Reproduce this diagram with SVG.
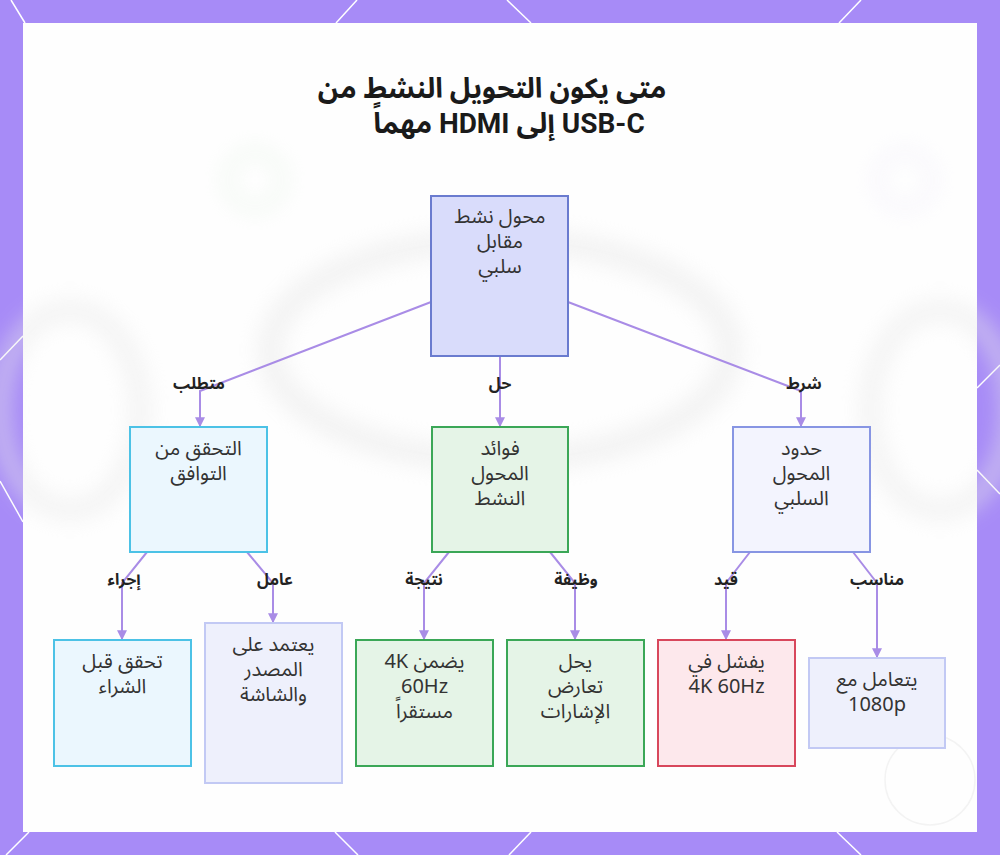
<svg xmlns="http://www.w3.org/2000/svg" width="1000" height="855" viewBox="0 0 1000 855">
  <style>
    .ntext { font-family: "Noto Sans Arabic", "Noto Sans", "DejaVu Sans", sans-serif; font-size: 20px; fill: #333333; text-anchor: middle; direction: rtl; }
    .elabel { font-family: "Noto Sans Arabic", "Noto Sans", "DejaVu Sans", sans-serif; font-size: 16px; font-weight: bold; fill: #222222; text-anchor: middle; direction: rtl; }
    .title { font-family: Roboto, "Noto Sans Arabic", "DejaVu Sans", sans-serif; font-size: 28px; font-weight: bold; fill: #1a1a1a; text-anchor: middle; direction: rtl; }
    .edge { fill: none; stroke: #A98CE6; stroke-width: 2; marker-end: url(#arrow); }
    .deco { stroke: #ffffff; stroke-width: 1.5; fill: none; }
    .blue { fill: #EBF7FE; stroke: #4CC2E6; stroke-width: 2; }
    .green { fill: #E5F4E7; stroke: #3BA757; stroke-width: 2; }
    .red { fill: #FDE8EC; stroke: #D8475C; stroke-width: 2; }
    .lav { fill: #EEF0FC; stroke: #C2C9F4; stroke-width: 2; }
    .lav2 { fill: #F3F4FE; stroke: #8795E3; stroke-width: 2; }
    .root { fill: #D9DCFB; stroke: #6A7BCF; stroke-width: 2; }
  </style>
  <defs>
    <marker id="arrow" viewBox="0 0 8 8" refX="7" refY="4" markerWidth="5" markerHeight="5" orient="auto" markerUnits="strokeWidth">
      <path d="M0,0 L8,4 L0,8 z" fill="#A98CE6"/>
    </marker>
    <filter id="blur" x="-20%" y="-20%" width="140%" height="140%">
      <feGaussianBlur stdDeviation="10"/>
    </filter>
  </defs>

  <!-- frame -->
  <rect x="0" y="0" width="1000" height="855" fill="#A78BF7"/>
  <g class="deco">
    <line x1="11" y1="0" x2="25" y2="23"/>
    <line x1="357" y1="0" x2="336" y2="23"/>
    <line x1="507" y1="0" x2="531" y2="23"/>
    <line x1="861" y1="0" x2="839" y2="23"/>
    <line x1="0" y1="360" x2="23" y2="336"/>
    <line x1="0" y1="481" x2="23" y2="522"/>
    <line x1="1000" y1="365" x2="977" y2="388"/>
    <line x1="1000" y1="494" x2="977" y2="470"/>
    <line x1="29" y1="832" x2="6" y2="855"/>
    <line x1="335" y1="832" x2="358" y2="855"/>
    <line x1="531" y1="832" x2="509" y2="855"/>
    <line x1="837" y1="832" x2="861" y2="855"/>
  </g>
  <rect x="23" y="23" width="954" height="809" fill="#FEFEFE"/>

  <!-- faint background -->
  <g id="background" filter="url(#blur)" opacity="0.45">
    <ellipse cx="500" cy="350" rx="230" ry="110" fill="none" stroke="#E6E6E6" stroke-width="26"/>
    <ellipse cx="70" cy="410" rx="70" ry="100" fill="none" stroke="#E8E8E8" stroke-width="22"/>
    <ellipse cx="940" cy="410" rx="70" ry="100" fill="none" stroke="#E8E8E8" stroke-width="22"/>
    <circle cx="255" cy="180" r="28" fill="none" stroke="#E3F1E3" stroke-width="10"/>
    <circle cx="905" cy="180" r="28" fill="none" stroke="#EEEAF8" stroke-width="10"/>
  </g>
  <circle cx="930" cy="780" r="45" fill="none" stroke="#F3F3F3" stroke-width="1.5"/>

  <!-- title -->
  <g id="title">
    <text class="title" x="492" y="98">متى يكون التحويل النشط من</text>
    <text class="title" x="509" y="133">USB-C إلى HDMI مهماً</text>
  </g>

  <!-- connectors -->
  <g id="connectors">
    <polyline class="edge" points="431,302 200,391 200,426"/>
    <polyline class="edge" points="500,356 500,426"/>
    <polyline class="edge" points="568,302 801,391 801,426"/>

    <polyline class="edge" points="147,552 122,583 122,639"/>
    <polyline class="edge" points="247,552 273,583 273,622"/>
    <polyline class="edge" points="449,552 424,583 424,639"/>
    <polyline class="edge" points="550,552 575,583 575,639"/>
    <polyline class="edge" points="750,552 726,583 726,639"/>
    <polyline class="edge" points="853,552 877,583 877,657"/>
  </g>

  <!-- edge labels -->
  <g id="edge-labels">
    <text class="elabel" x="199" y="389">متطلب</text>
    <text class="elabel" x="500" y="389">حل</text>
    <text class="elabel" x="804" y="389">شرط</text>
    <text class="elabel" x="124" y="585">إجراء</text>
    <text class="elabel" x="275" y="585">عامل</text>
    <text class="elabel" x="424" y="585">نتيجة</text>
    <text class="elabel" x="576" y="585">وظيفة</text>
    <text class="elabel" x="726" y="585">قيد</text>
    <text class="elabel" x="877" y="585">مناسب</text>
  </g>

  <!-- nodes -->
  <g id="node-root">
    <rect class="root" x="431" y="196" width="137" height="160"/>
    <text class="ntext" x="500" y="223">محول نشط</text>
    <text class="ntext" x="500" y="248">مقابل</text>
    <text class="ntext" x="500" y="273">سلبي</text>
  </g>
  <g id="node-compat">
    <rect class="blue" x="130" y="427" width="137" height="125"/>
    <text class="ntext" x="198.5" y="455">التحقق من</text>
    <text class="ntext" x="198.5" y="480">التوافق</text>
  </g>
  <g id="node-active-benefits">
    <rect class="green" x="432" y="427" width="136" height="125"/>
    <text class="ntext" x="500" y="455">فوائد</text>
    <text class="ntext" x="500" y="480">المحول</text>
    <text class="ntext" x="500" y="505">النشط</text>
  </g>
  <g id="node-passive-limits">
    <rect class="lav2" x="733" y="427" width="137" height="125"/>
    <text class="ntext" x="801.5" y="455">حدود</text>
    <text class="ntext" x="801.5" y="480">المحول</text>
    <text class="ntext" x="801.5" y="505">السلبي</text>
  </g>
  <g id="node-check-before">
    <rect class="blue" x="54" y="640" width="137" height="126"/>
    <text class="ntext" x="122.5" y="668">تحقق قبل</text>
    <text class="ntext" x="122.5" y="693">الشراء</text>
  </g>
  <g id="node-depends">
    <rect class="lav" x="205" y="623" width="137" height="160"/>
    <text class="ntext" x="273.5" y="651">يعتمد على</text>
    <text class="ntext" x="273.5" y="676">المصدر</text>
    <text class="ntext" x="273.5" y="701">والشاشة</text>
  </g>
  <g id="node-guarantees">
    <rect class="green" x="356" y="640" width="137" height="126"/>
    <text class="ntext" x="424.5" y="668">يضمن 4K</text>
    <text class="ntext" x="424.5" y="693">60Hz</text>
    <text class="ntext" x="424.5" y="718">مستقراً</text>
  </g>
  <g id="node-resolves">
    <rect class="green" x="507" y="640" width="137" height="126"/>
    <text class="ntext" x="575.5" y="668">يحل</text>
    <text class="ntext" x="575.5" y="693">تعارض</text>
    <text class="ntext" x="575.5" y="718">الإشارات</text>
  </g>
  <g id="node-fails">
    <rect class="red" x="658" y="640" width="137" height="126"/>
    <text class="ntext" x="726.5" y="668">يفشل في</text>
    <text class="ntext" x="726.5" y="693">4K 60Hz</text>
  </g>
  <g id="node-1080p">
    <rect class="lav" x="809" y="658" width="136" height="90"/>
    <text class="ntext" x="877" y="686">يتعامل مع</text>
    <text class="ntext" x="877" y="711">1080p</text>
  </g>
</svg>
